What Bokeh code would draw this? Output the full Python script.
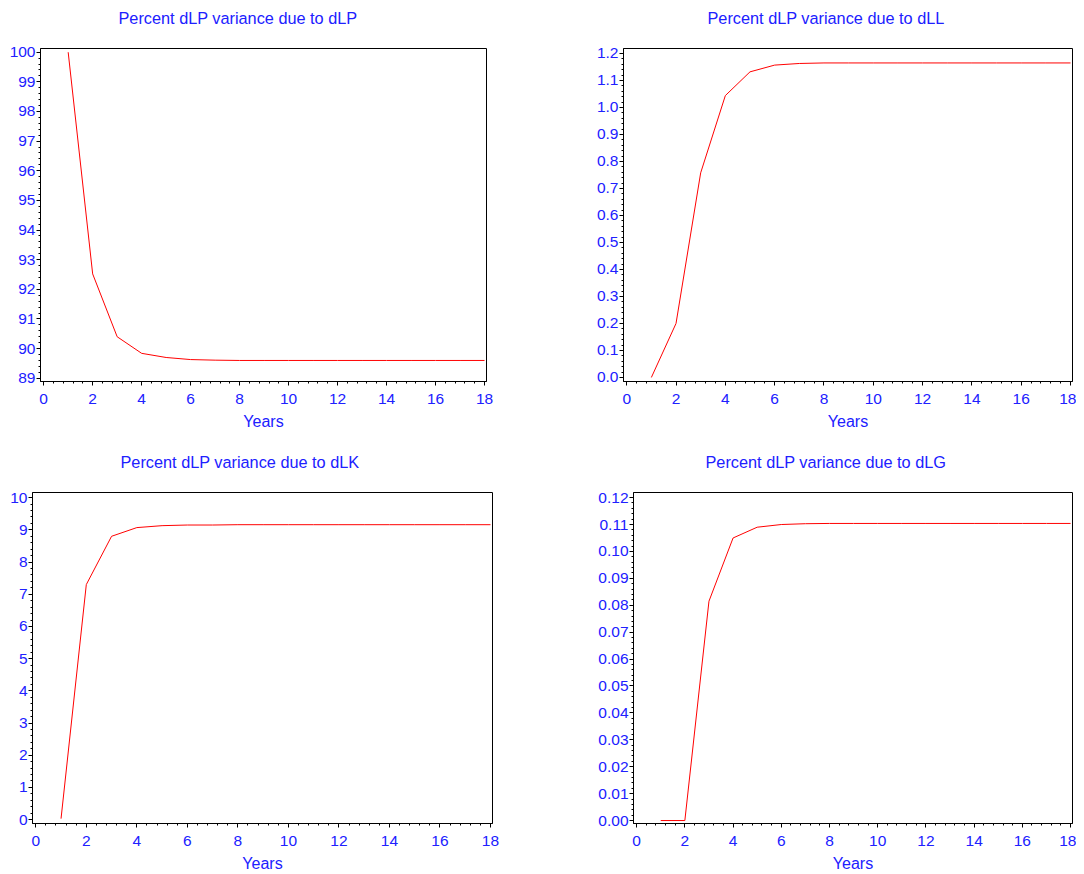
from bokeh.plotting import figure
from bokeh.layouts import column, row
from bokeh.models import Range1d, FixedTicker, PrintfTickFormatter, Title
from bokeh.embed import file_html
from bokeh.resources import INLINE

# ---------------- data ----------------
years = list(range(1, 19))
dlp = [100.0, 92.52, 90.40, 89.84, 89.70, 89.63, 89.61, 89.60, 89.60,
       89.60, 89.60, 89.60, 89.60, 89.60, 89.60, 89.60, 89.60, 89.60]
dll = [0.0, 0.20, 0.758, 1.044, 1.132, 1.157, 1.163, 1.165, 1.165,
       1.165, 1.165, 1.165, 1.165, 1.165, 1.165, 1.165, 1.165, 1.165]
dlk = [0.03, 7.30, 8.80, 9.07, 9.13, 9.15, 9.15, 9.16, 9.16,
       9.16, 9.16, 9.16, 9.16, 9.16, 9.16, 9.16, 9.16, 9.16]
dlg = [0.0, 0.0, 0.0815, 0.105, 0.109, 0.1100, 0.1103, 0.1104, 0.1104,
       0.1104, 0.1104, 0.1104, 0.1104, 0.1104, 0.1104, 0.1104, 0.1104, 0.1104]

titles = ["Percent dLP variance due to dLP", "Percent dLP variance due to dLL",
          "Percent dLP variance due to dLK", "Percent dLP variance due to dLG"]
x_ticks = [0, 2, 4, 6, 8, 10, 12, 14, 16, 18]
y_ticks_lp = [89, 90, 91, 92, 93, 94, 95, 96, 97, 98, 99, 100]
y_ticks_ll = [0.0, 0.1, 0.2, 0.3, 0.4, 0.5, 0.6, 0.7, 0.8, 0.9, 1.0, 1.1, 1.2]
y_ticks_lk = [0, 1, 2, 3, 4, 5, 6, 7, 8, 9, 10]
y_ticks_lg = [0.00, 0.01, 0.02, 0.03, 0.04, 0.05, 0.06, 0.07, 0.08, 0.09, 0.10, 0.11, 0.12]
x_label = "Years"

BLUE = "#2020ff"
FONT = "Liberation Sans"


def minor_of(ticks, n=5):
    out = []
    for a, b in zip(ticks[:-1], ticks[1:]):
        step = (b - a) / n
        out += [a + step * k for k in range(1, n)]
    return out


def make(title, ys, yticks, yfmt, yr, w, h, bl, br, bt, bb, toff, lab_standoff, lab_lh):
    p = figure(width=w, height=h, output_backend="svg", toolbar_location=None,
               x_range=Range1d(-0.13, 18.08), y_range=Range1d(*yr),
               min_border_left=bl, min_border_right=br,
               min_border_top=bt, min_border_bottom=bb)
    p.grid.visible = False
    p.outline_line_color = "black"
    p.outline_line_width = 1
    p.outline_line_alpha = 1
    # spacer then title
    p.add_layout(Title(text=" ", text_font_size="1px", standoff=19), "above")
    p.add_layout(Title(text=title, text_font=FONT, text_font_size="16.3px",
                       text_font_style="normal", text_color=BLUE,
                       align="left", offset=toff, standoff=0), "above")
    p.line(years, ys, line_color="red", line_width=1)

    p.xaxis.ticker = FixedTicker(ticks=x_ticks, minor_ticks=minor_of(x_ticks))
    p.yaxis.ticker = FixedTicker(ticks=yticks, minor_ticks=minor_of(yticks))
    p.yaxis.formatter = PrintfTickFormatter(format=yfmt)
    p.xaxis.axis_label = x_label
    for ax in (p.xaxis[0], p.yaxis[0]):
        ax.axis_line_color = "black"
        ax.major_tick_line_color = "black"
        ax.minor_tick_line_color = "black"
        ax.major_tick_in = 0
        ax.major_tick_out = 4
        ax.minor_tick_in = 0
        ax.minor_tick_out = 2
        ax.major_label_text_font = FONT
        ax.major_label_text_font_size = "15.5px"
        ax.major_label_text_color = BLUE
        ax.axis_label_text_font = FONT
        ax.axis_label_text_font_size = "16px"
        ax.axis_label_text_font_style = "normal"
        ax.axis_label_text_color = BLUE
    p.xaxis.major_label_standoff = 8
    p.xaxis.axis_label_standoff = lab_standoff
    p.xaxis.axis_label_text_line_height = lab_lh
    p.yaxis.major_label_standoff = 1
    return p


p1 = make(titles[0], dlp, y_ticks_lp, "%d", (88.89, 100.125), 548, 440, 40, 62, 48, 59, 78, 6, 1.2)
p2 = make(titles[1], dll, y_ticks_ll, "%.1f", (-0.015, 1.2185), 528, 440, 75, 4, 48, 59, 84, 6, 1.2)
p3 = make(titles[2], dlk, y_ticks_lk, "%d", (-0.12, 10.16), 548, 434, 32, 56, 52, 51, 88, 6, 1.0)
p4 = make(titles[3], dlg, y_ticks_lg, "%.2f", (-0.0011, 0.1219), 528, 434, 85, 4, 52, 51, 72, 6, 1.0)

layout = column(row(p1, p2), row(p3, p4))
open("out.html", "w").write(file_html(layout, INLINE))
